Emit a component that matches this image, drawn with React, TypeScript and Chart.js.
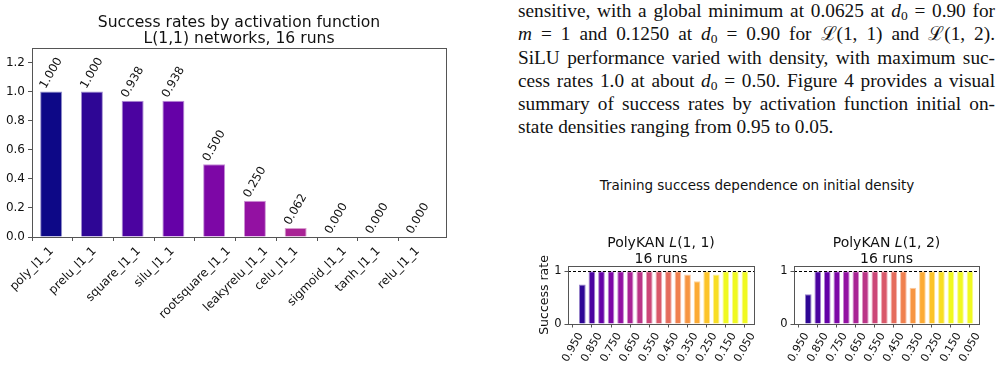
import React, { useEffect, useRef } from 'react';
import { Chart, registerables } from 'chart.js';

Chart.register(...registerables);

// ---------------- data ----------------
const activationLabels = ['poly_l1_1', 'prelu_l1_1', 'square_l1_1', 'silu_l1_1', 'rootsquare_l1_1', 'leakyrelu_l1_1', 'celu_l1_1', 'sigmoid_l1_1', 'tanh_l1_1', 'relu_l1_1'];
const activationSuccess = [1.0, 1.0, 0.9375, 0.9375, 0.5, 0.25, 0.0625, 0, 0, 0];
const mainTitleLines = ['Success rates by activation function', 'L(1,1) networks, 16 runs'];
const mainYTicks = [0, 0.2, 0.4, 0.6, 0.8, 1.0, 1.2];

const densityLabels = ['0.950', '0.900', '0.850', '0.800', '0.750', '0.700', '0.650', '0.600', '0.550', '0.500', '0.450', '0.400', '0.350', '0.300', '0.250', '0.200', '0.150', '0.100', '0.050'];
const polyKanL11 = [0, 0.75, 1, 1, 1, 1, 1, 1, 1, 1, 1, 1, 0.9375, 0.8125, 1, 0.9375, 1, 1, 1];
const polyKanL12 = [0, 0.5625, 1, 1, 1, 1, 1, 1, 1, 1, 1, 1, 0.6875, 1, 1, 1, 1, 1, 1];
const smallYTicks = [0, 1];
const figureTitle = 'Training success dependence on initial density';
const smallTitleSuffixes = ['(1, 1)', '(1, 2)'];
const runsLabel = '16 runs';
const yAxisLabel = 'Success rate';

// ---------------- styles ----------------
const SANS = '"DejaVu Sans", sans-serif';
const FRAME = '#555';
const PLASMA_STOPS = ['#0d0887', '#41049d', '#6a00a8', '#8f0da4', '#b12a90', '#cc4778', '#e16462', '#f2844b', '#fca636', '#fcce25', '#f0f921'];

function hexToRgb(h: string): number[] {
  return [1, 3, 5].map((i) => parseInt(h.slice(i, i + 2), 16));
}
function plasma(t: number): number[] {
  const c = Math.max(0, Math.min(1, t)) * 10;
  const i = Math.min(9, Math.floor(c));
  const f = c - i;
  const a = hexToRgb(PLASMA_STOPS[i]);
  const b = hexToRgb(PLASMA_STOPS[i + 1]);
  return a.map((v, k) => Math.round(v + (b[k] - v) * f));
}
const rgb = (c: number[]) => `rgb(${c[0]},${c[1]},${c[2]})`;
const lighten = (c: number[], f: number) => rgb(c.map((v) => Math.round(v + (255 - v) * f)));

function fmt3(v: number): string {
  const s = v * 1000;
  let r = Math.round(s);
  if (Math.abs(s - Math.floor(s) - 0.5) < 1e-9) {
    const fl = Math.floor(s);
    r = fl % 2 === 0 ? fl : fl + 1;
  }
  return (r / 1000).toFixed(3);
}

function drawRotatedCentered(ctx: CanvasRenderingContext2D, text: string, cx: number, topY: number, deg: number, size: number, fromBottom = false) {
  ctx.font = `${size}px ${SANS}`;
  const a = (deg * Math.PI) / 180;
  const w = ctx.measureText(text).width;
  const h = size;
  const bbH = w * Math.sin(a) + h * Math.cos(a);
  const cy = fromBottom ? topY - bbH / 2 : topY + bbH / 2;
  ctx.save();
  ctx.translate(cx, cy);
  ctx.rotate(-a);
  ctx.textAlign = 'center';
  ctx.textBaseline = 'middle';
  ctx.fillStyle = '#111';
  ctx.fillText(text, 0, 0);
  ctx.restore();
}

function drawFrame(ctx: CanvasRenderingContext2D, a: any) {
  ctx.save();
  ctx.strokeStyle = FRAME;
  ctx.lineWidth = 1;
  ctx.strokeRect(a.left + 0.5, a.top + 0.5, a.right - a.left, a.bottom - a.top);
  ctx.restore();
}

// ---------------- main chart ----------------
const BAR_SHIFT = 0.47;

const mainDecor = {
  id: 'mainDecor',
  afterDatasetsDraw(chart: any) {
    const ctx = chart.ctx as CanvasRenderingContext2D;
    const meta = chart.getDatasetMeta(0);
    meta.data.forEach((el: any, i: number) => {
      drawRotatedCentered(ctx, fmt3(activationSuccess[i]), el.x, el.y - 1, 60, 11.7, true);
    });
  },
  afterDraw(chart: any) {
    const ctx = chart.ctx as CanvasRenderingContext2D;
    const a = chart.chartArea;
    drawFrame(ctx, a);
    ctx.save();
    ctx.fillStyle = '#111';
    ctx.font = `15.6px ${SANS}`;
    ctx.textAlign = 'center';
    ctx.textBaseline = 'alphabetic';
    const cx = (a.left + a.right) / 2;
    ctx.fillText(mainTitleLines[0], cx, a.top - 21.3);
    ctx.fillText(mainTitleLines[1], cx, a.top - 4.7);
    ctx.restore();
    const xs = chart.scales.x;
    activationLabels.forEach((lab, i) => {
      drawRotatedCentered(ctx, lab, xs.getPixelForValue(i), a.bottom + 8, 45, 12);
    });
  },
};

function buildMain(canvas: HTMLCanvasElement) {
  const colors = activationLabels.map((_, i) => plasma(i / 16));
  return new Chart(canvas, {
    type: 'bar',
    data: {
      datasets: [
        {
          data: activationSuccess.map((v, i) => ({ x: i + BAR_SHIFT, y: v })),
          backgroundColor: colors.map(rgb),
          borderColor: colors.map((c) => lighten(c, 0.55)),
          borderWidth: activationSuccess.map((v) => (v > 0 ? 1 : 0)),
          barPercentage: 0.54,
          categoryPercentage: 1,
        } as any,
      ],
    },
    options: {
      animation: false,
      responsive: false,
      devicePixelRatio: 1,
      layout: { padding: { left: 0, right: 14, top: 48, bottom: 0 } },
      plugins: { legend: { display: false }, tooltip: { enabled: false }, title: { display: false } },
      scales: {
        x: {
          type: 'linear',
          min: 0,
          max: 10.16,
          offset: false,
          bounds: 'data',
          grid: { offset: false, drawOnChartArea: false, drawTicks: true, tickLength: 4, color: FRAME },
          border: { display: false },
          ticks: { display: false },
          afterBuildTicks: (s: any) => {
            s.ticks = activationLabels.map((_, i) => ({ value: i }));
          },
          afterFit: (s: any) => {
            s.height = 129;
          },
        },
        y: {
          type: 'linear',
          min: 0,
          max: 1.3,
          bounds: 'data',
          grid: { drawOnChartArea: false, drawTicks: true, tickLength: 4, color: FRAME },
          border: { display: false },
          ticks: {
            color: '#111',
            padding: 3,
            font: { size: 12, family: SANS },
            callback: (v: any) => Number(v).toFixed(1),
          },
          afterBuildTicks: (s: any) => {
            s.ticks = mainYTicks.map((v) => ({ value: v }));
          },
          afterFit: (s: any) => {
            s.width = 32;
          },
        },
      },
    } as any,
    plugins: [mainDecor],
  });
}

// ---------------- small charts ----------------
function smallDecor(suffix: string, showYLabel: boolean) {
  return {
    id: 'smallDecor',
    afterDraw(chart: any) {
      const ctx = chart.ctx as CanvasRenderingContext2D;
      const a = chart.chartArea;
      const y1 = Math.round(chart.scales.y.getPixelForValue(1)) + 0.5;
      ctx.save();
      ctx.strokeStyle = '#000';
      ctx.lineWidth = 1;
      ctx.setLineDash([3, 2]);
      ctx.beginPath();
      ctx.moveTo(a.left, y1);
      ctx.lineTo(a.right, y1);
      ctx.stroke();
      ctx.restore();
      drawFrame(ctx, a);

      ctx.save();
      ctx.fillStyle = '#111';
      ctx.textBaseline = 'alphabetic';
      const cx = (a.left + a.right) / 2;
      const normal = `14px ${SANS}`;
      const ital = `italic 14px ${SANS}`;
      const parts: [string, string][] = [['PolyKAN ', normal], ['L', ital], [suffix, normal]];
      let total = 0;
      parts.forEach(([t, f]) => {
        ctx.font = f;
        total += ctx.measureText(t).width;
      });
      let x = cx - total / 2;
      ctx.textAlign = 'left';
      parts.forEach(([t, f]) => {
        ctx.font = f;
        ctx.fillText(t, x, a.top - 18.7);
        x += ctx.measureText(t).width;
      });
      ctx.font = normal;
      ctx.textAlign = 'center';
      ctx.fillText(runsLabel, cx, a.top - 2.7);
      if (showYLabel) {
        ctx.translate(a.left - 23, (a.top + a.bottom) / 2);
        ctx.rotate(-Math.PI / 2);
        ctx.font = `12.5px ${SANS}`;
        ctx.textBaseline = 'middle';
        ctx.fillText(yAxisLabel, 0, 0);
      }
      ctx.restore();

      const xs = chart.scales.x;
      densityLabels.forEach((lab, i) => {
        if (i % 2 === 0) drawRotatedCentered(ctx, lab, xs.getPixelForValue(i), a.bottom + 7, 60, 11);
      });
    },
  };
}

function buildSmall(canvas: HTMLCanvasElement, values: number[], suffix: string, showYLabel: boolean, yWidth: number, padRight: number) {
  const colors = densityLabels.map((_, i) => plasma(i / 16));
  return new Chart(canvas, {
    type: 'bar',
    data: {
      datasets: [
        {
          data: values.map((v, i) => ({ x: i, y: v })),
          backgroundColor: colors.map(rgb),
          borderColor: colors.map((c) => lighten(c, 0.5)),
          borderWidth: values.map((v) => (v > 0 ? 1 : 0)),
          barPercentage: 0.7,
          categoryPercentage: 1,
        } as any,
      ],
    },
    options: {
      animation: false,
      responsive: false,
      devicePixelRatio: 1,
      layout: { padding: { left: 0, right: padRight, top: 66, bottom: 0 } },
      plugins: { legend: { display: false }, tooltip: { enabled: false }, title: { display: false } },
      scales: {
        x: {
          type: 'linear',
          min: -0.5,
          max: 18.95,
          offset: false,
          bounds: 'data',
          grid: { offset: false, drawOnChartArea: false, drawTicks: true, tickLength: 3.5, color: FRAME },
          border: { display: false },
          ticks: { display: false },
          afterBuildTicks: (s: any) => {
            s.ticks = densityLabels.map((_, i) => ({ value: i })).filter((t) => t.value % 2 === 0);
          },
          afterFit: (s: any) => {
            s.height = 42;
          },
        },
        y: {
          type: 'linear',
          min: 0,
          max: 1.1,
          bounds: 'data',
          grid: { drawOnChartArea: false, drawTicks: true, tickLength: 3.5, color: FRAME },
          border: { display: false },
          ticks: {
            color: '#111',
            padding: 3,
            font: { size: 11.5, family: SANS },
          },
          afterBuildTicks: (s: any) => {
            s.ticks = smallYTicks.map((v) => ({ value: v }));
          },
          afterFit: (s: any) => {
            s.width = yWidth;
          },
        },
      },
    } as any,
    plugins: [smallDecor(suffix, showYLabel)],
  });
}

// ---------------- components ----------------
function ChartCanvas(props: { left: number; top: number; width: number; height: number; build: (c: HTMLCanvasElement) => Chart }) {
  const ref = useRef<HTMLCanvasElement>(null);
  useEffect(() => {
    const chart = props.build(ref.current as HTMLCanvasElement);
    return () => chart.destroy();
  }, []);
  return (
    <canvas
      ref={ref}
      width={props.width}
      height={props.height}
      style={{ position: 'absolute', left: props.left, top: props.top, width: props.width, height: props.height }}
    />
  );
}

const D0 = () => (
  <>
    <i>d</i>
    <sub style={{ fontSize: '0.7em', verticalAlign: '-0.25em', lineHeight: 0 }}>0</sub>
  </>
);
const CL = 'ℒ';

const lineStyle: React.CSSProperties = {
  height: 23.3,
  lineHeight: '23.3px',
  whiteSpace: 'nowrap',
  textAlign: 'justify',
  textAlignLast: 'justify',
};

function Paragraph() {
  return (
    <div
      style={{
        position: 'absolute',
        left: 518,
        top: -1,
        width: 477,
        fontFamily: '"Liberation Serif", "DejaVu Serif", serif',
        fontSize: 19.3,
        color: '#111',
      }}
    >
      <div style={lineStyle}>
        sensitive, with a global minimum at 0.0625 at <D0 /> = 0.90 for
      </div>
      <div style={lineStyle}>
        <i>m</i> = 1 and 0.1250 at <D0 /> = 0.90 for {CL}(1, 1) and {CL}(1, 2).
      </div>
      <div style={lineStyle}>SiLU performance varied with density, with maximum suc-</div>
      <div style={lineStyle}>
        cess rates 1.0 at about <D0 /> = 0.50. Figure 4 provides a visual
      </div>
      <div style={lineStyle}>summary of success rates by activation function initial on-</div>
      <div style={{ ...lineStyle, textAlign: 'left', textAlignLast: 'left' }}>state densities ranging from 0.95 to 0.05.</div>
    </div>
  );
}

export default function App() {
  return (
    <div style={{ position: 'absolute', left: 0, top: 0, width: 1001, height: 366, background: '#fff', overflow: 'hidden' }}>
      <ChartCanvas left={0} top={0} width={460} height={366} build={buildMain} />
      <Paragraph />
      <div
        style={{
          position: 'absolute',
          left: 557,
          top: 176.6,
          width: 400,
          textAlign: 'center',
          fontFamily: SANS,
          fontSize: 13.5,
          lineHeight: '16px',
          color: '#111',
          whiteSpace: 'nowrap',
        }}
      >
        {figureTitle}
      </div>
      <ChartCanvas
        left={520}
        top={200}
        width={240}
        height={166}
        build={(c) => buildSmall(c, polyKanL11, smallTitleSuffixes[0], true, 48, 6)}
      />
      <ChartCanvas
        left={760}
        top={200}
        width={241}
        height={166}
        build={(c) => buildSmall(c, polyKanL12, smallTitleSuffixes[1], false, 34, 22)}
      />
    </div>
  );
}
